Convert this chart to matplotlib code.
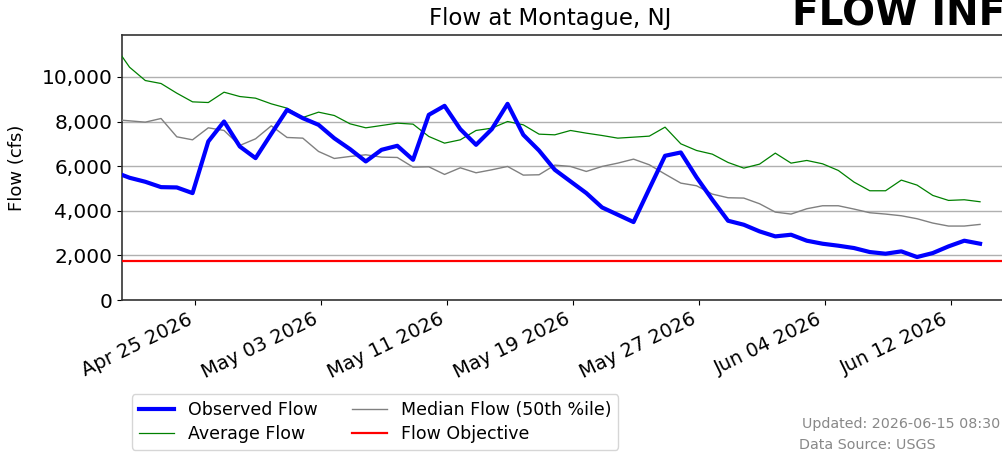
import matplotlib
matplotlib.use("Agg")
import matplotlib.pyplot as plt
import matplotlib.dates as mdates
from matplotlib.ticker import FuncFormatter
import pandas as pd

# daily dates (shown at 20:00 local, i.e. midnight UTC)
dates = pd.date_range("2026-04-19 20:00", periods=56, freq="D")

observed = [5750, 5480, 5300, 5060, 5046, 4792, 7107, 8002, 6883, 6360, 7450, 8525, 8152, 7853,
            7250, 6763, 6211, 6733, 6913, 6285, 8301, 8704, 7659, 6957, 7659, 8794, 7405, 6700,
            5838, 5315, 4793, 4150, 3822, 3494, 4987, 6465, 6614, 5500, 4500, 3553, 3374, 3076,
            2852, 2926, 2658, 2523, 2434, 2329, 2150, 2075, 2180, 1926, 2105, 2404, 2658, 2523]
average = [11450, 10436, 9839, 9705, 9272, 8883, 8853, 9316, 9122, 9048, 8794, 8600, 8182, 8421,
           8271, 7898, 7719, 7823, 7928, 7883, 7331, 7032, 7181, 7600, 7704, 8002, 7853, 7435,
           7405, 7600, 7480, 7375, 7256, 7300, 7346, 7749, 7002, 6703, 6539, 6166, 5912, 6091,
           6584, 6136, 6256, 6106, 5808, 5285, 4897, 4897, 5375, 5151, 4688, 4464, 4494, 4404]
median = [8090, 8032, 7973, 8137, 7316, 7181, 7719, 7600, 6928, 7226, 7808, 7286, 7256, 6659,
          6345, 6435, 6510, 6405, 6390, 5957, 5972, 5629, 5927, 5703, 5837, 5987, 5599, 5614,
          6047, 5987, 5763, 5987, 6136, 6315, 6062, 5644, 5240, 5121, 4748, 4584, 4569, 4315,
          3941, 3852, 4091, 4225, 4225, 4076, 3912, 3852, 3777, 3643, 3449, 3315, 3315, 3389]
flow_objective = 1750

y_ticks = [0, 2000, 4000, 6000, 8000, 10000]
x_ticks = pd.date_range("2026-04-25", "2026-06-12", freq="8D")
x_start = pd.Timestamp("2026-04-20 08:30")
x_end = pd.Timestamp("2026-06-15 08:30")
updated = "Updated: 2026-06-15 08:30"
source = "Data Source: USGS"

W, H = 1002, 455
fig = plt.figure(figsize=(W / 100, H / 100), dpi=100)
ax = fig.add_axes([122 / W, 1 - 300 / H, (1004 - 122) / W, (300 - 35) / H])

l1, = ax.plot(dates, observed, color="#0000ff", lw=3.0, label="Observed Flow", zorder=4)
l2, = ax.plot(dates, average, color="green", lw=0.9, label="Average Flow", zorder=3)
l3, = ax.plot(dates, median, color="gray", lw=1.0, label="Median Flow (50th %ile)", zorder=3)
l4 = ax.axhline(flow_objective, color="red", lw=1.6, label="Flow Objective", zorder=3)

ax.set_xlim(x_start, x_end)
ax.set_ylim(0, 11880)
ax.set_yticks(y_ticks)
ax.yaxis.set_major_formatter(FuncFormatter(lambda v, p: f"{int(v):,}"))
ax.yaxis.grid(True, color="#b0b0b0", lw=1.0)
ax.set_axisbelow(True)
ax.set_xticks(x_ticks)
ax.xaxis.set_major_formatter(mdates.DateFormatter("%b %d %Y"))
ax.tick_params(axis="x", labelsize=14)
ax.tick_params(axis="y", labelsize=14.5)
for lbl in ax.get_xticklabels():
    lbl.set_rotation(26)
    lbl.set_ha("right")
ax.set_ylabel("Flow (cfs)", fontsize=13, labelpad=11)
for s in ax.spines.values():
    s.set_color("#333333")
    s.set_linewidth(1.2)

fig.text(550 / W, 1 - 19 / H, "Flow at Montague, NJ", ha="center", va="center", fontsize=16.5)
fig.text(792 / W, 1 - 14 / H, "FLOW INFO", ha="left", va="center", fontsize=28, fontweight="bold")

fig.legend(handles=[l1, l2, l3, l4], ncol=2, fontsize=12.5,
           loc="center", bbox_to_anchor=((130 + 620) / 2 / W, 1 - 422 / H),
           frameon=True, edgecolor="#cccccc", columnspacing=2.0, handlelength=2.0,
           labelspacing=0.3)

fig.text(1000 / W, 1 - 424 / H, updated, ha="right", va="center", fontsize=10.3, color="#888888")
fig.text(799 / W, 1 - 445 / H, source, ha="left", va="center", fontsize=10.3, color="#888888")

fig.savefig("out.png", dpi=100)
